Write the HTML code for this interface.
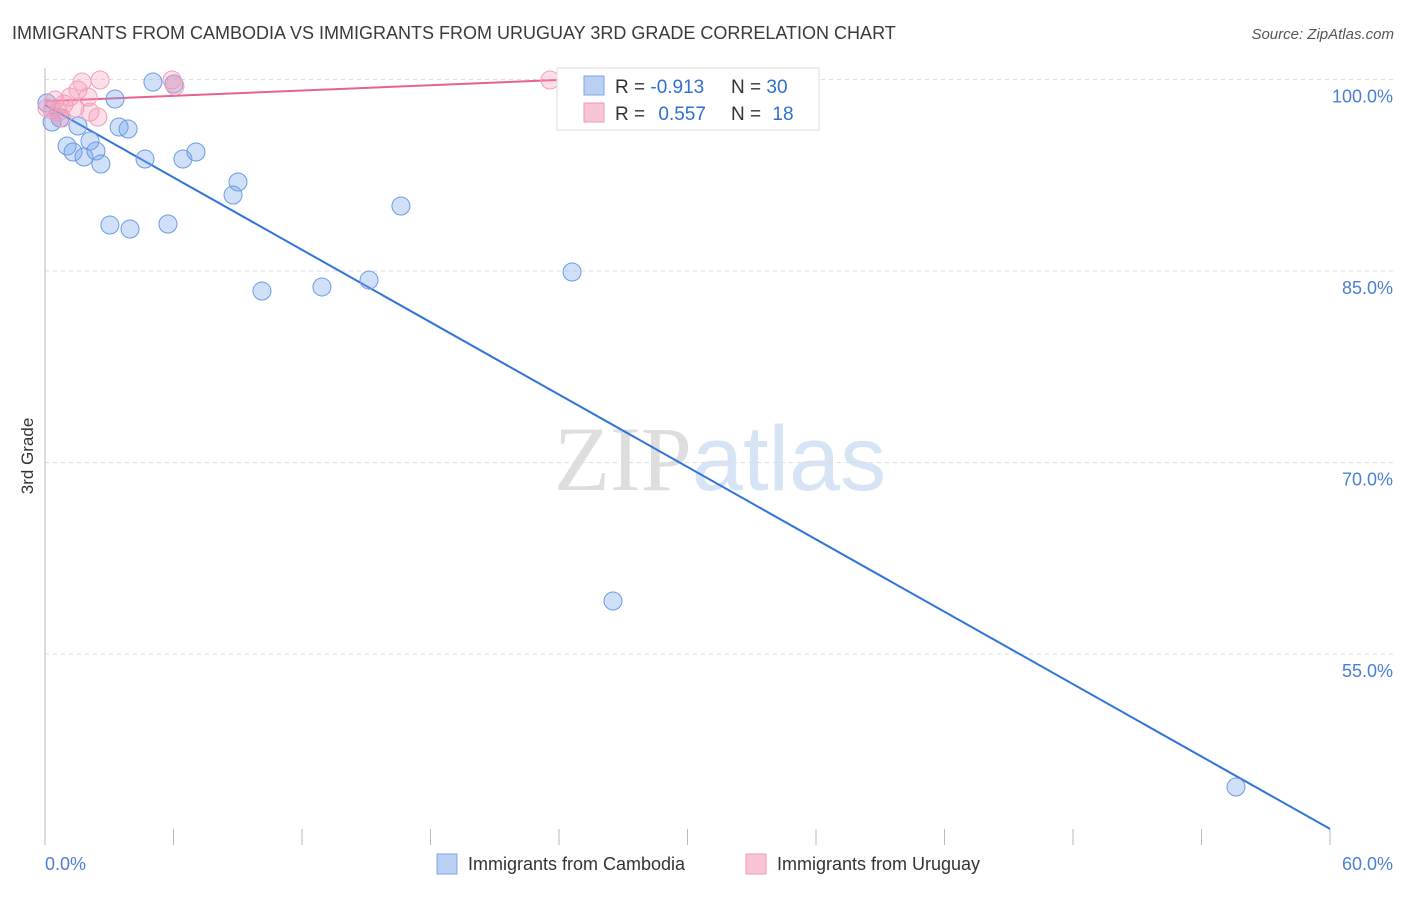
<!DOCTYPE html>
<html><head><meta charset="utf-8"><style>
body{margin:0;background:#fff;font-family:"Liberation Sans",sans-serif;}
svg text{font-family:"Liberation Sans",sans-serif;}
</style></head><body>
<svg id="chart" width="1406" height="892" xmlns="http://www.w3.org/2000/svg">
<text x="12" y="39" font-size="18" fill="#3a3a3a">IMMIGRANTS FROM CAMBODIA VS IMMIGRANTS FROM URUGUAY 3RD GRADE CORRELATION CHART</text>
<text x="1394" y="39" font-size="15" fill="#555" text-anchor="end" font-style="italic">Source: ZipAtlas.com</text>
<text x="720" y="490" font-size="92" text-anchor="middle" fill="#e4e4e4"><tspan font-family="Liberation Serif" fill="#dedede">ZIP</tspan><tspan fill="#d6e4f5">atlas</tspan></text>
<text transform="translate(33,456) rotate(-90)" font-size="17" fill="#333" text-anchor="middle">3rd Grade</text>
<g id="grid"></g>
<g id="trend"></g>
<g id="points"></g>
<g>
<rect x="557" y="68" width="262" height="62" fill="#fff" stroke="#ddd"/>
<rect x="584" y="76" width="20" height="19" fill="#b9d0f2" stroke="#7fa6e6"/>
<rect x="584" y="103" width="20" height="19" fill="#f8c5d4" stroke="#ee9ab5"/>
<text x="615" y="93" font-size="19" fill="#333">R = <tspan fill="#2f6fd6">-0.913</tspan></text>
<text x="731" y="93" font-size="19" fill="#333">N = <tspan fill="#2f6fd6">30</tspan></text>
<text x="615" y="120" font-size="19" fill="#333">R = <tspan fill="#2f6fd6" dx="8">0.557</tspan></text>
<text x="731" y="120" font-size="19" fill="#333">N = <tspan fill="#2f6fd6" dx="6">18</tspan></text>
</g>
<text x="45" y="870" font-size="18" fill="#4a7fd6">0.0%</text>
<text x="1393" y="870" font-size="18" fill="#4a7fd6" text-anchor="end">60.0%</text>
<g>
<rect x="437" y="854" width="20" height="20" fill="#b9d0f2" stroke="#7fa6e6"/>
<text x="468" y="870" font-size="18" fill="#333">Immigrants from Cambodia</text>
<rect x="746" y="854" width="20" height="20" fill="#f8c5d4" stroke="#ee9ab5"/>
<text x="777" y="870" font-size="18" fill="#333">Immigrants from Uruguay</text>
</g>
</svg>
<script>
const yTicks=[100,85,70,55];
const yTickLabels=["100.0%","85.0%","70.0%","55.0%"];
const xTicks=[0,6,12,18,24,30,36,42,48,54,60];
const cambodiaX=[0.09,0.33,0.70,1.54,3.27,5.04,6.02,1.03,1.31,1.82,2.10,2.38,2.61,3.46,3.88,4.67,6.44,7.05,9.01,8.78,3.03,3.97,5.74,16.62,10.13,12.93,15.13,24.61,26.52,55.61];
const cambodiaY=[98.16,96.67,96.98,96.36,98.47,99.80,99.65,94.79,94.32,93.93,95.18,94.40,93.38,96.28,96.12,93.77,93.77,94.32,91.97,90.95,88.60,88.29,88.68,90.09,83.43,83.75,84.29,84.92,59.15,44.58];
const uruguayX=[0.09,0.33,0.61,0.89,1.17,1.54,1.73,2.01,2.47,2.57,0.79,1.40,5.93,6.07,23.58,35.30,2.10,0.47];
const uruguayY=[97.77,97.61,97.45,98.08,98.63,99.18,99.80,98.63,97.06,99.96,96.98,97.77,99.96,99.49,99.96,99.96,97.45,98.39];
const cambodiaTrendX=[0,60], cambodiaTrendY=[98.0,41.3];
const uruguayTrendX=[0,25.9], uruguayTrendY=[98.3,100.1];
const NS="http://www.w3.org/2000/svg";
const xs=v=>45+v/60*1285;
const ys=v=>79.5+(100-v)/15*191.5;
function mk(t,a,p){const e=document.createElementNS(NS,t);for(const k in a)e.setAttribute(k,a[k]);p.appendChild(e);return e;}
const grid=document.getElementById('grid');
yTicks.forEach((v,i)=>{
 const l=mk('line',{x1:45,x2:1393,y1:ys(v),y2:ys(v),stroke:'#ddd','stroke-dasharray':'4,4'},grid);
 
 
 const t=mk('text',{x:1393,y:ys(v)+23,'font-size':18,fill:'#4a7fd6','text-anchor':'end'},grid);
 t.textContent=yTickLabels[i];
 
 
});
const ax=mk('line',{x1:45,x2:45,y1:68,y2:845,stroke:'#bbb'},grid);


xTicks.forEach(v=>{
 const t=mk('line',{x1:xs(v),x2:xs(v),y1:829,y2:845,stroke:'#bbb'},grid);
 
 
});
const tr=document.getElementById('trend');
const l1=mk('line',{x1:xs(cambodiaTrendX[0]),y1:ys(cambodiaTrendY[0]),x2:xs(cambodiaTrendX[1]),y2:ys(cambodiaTrendY[1]),stroke:'#2f74d9','stroke-width':2},tr);


const l2=mk('line',{x1:xs(uruguayTrendX[0]),y1:ys(uruguayTrendY[0]),x2:xs(uruguayTrendX[1]),y2:ys(uruguayTrendY[1]),stroke:'#e8628f','stroke-width':2},tr);


const pts=document.getElementById('points');
cambodiaX.forEach((x,i)=>{
 const c=mk('circle',{cx:xs(x),cy:ys(cambodiaY[i]),r:9,fill:'rgba(120,165,235,0.35)',stroke:'#6b9be3','stroke-width':1},pts);
 
 
});
uruguayX.forEach((x,i)=>{
 const c=mk('circle',{cx:xs(x),cy:ys(uruguayY[i]),r:9,fill:'rgba(245,150,180,0.3)',stroke:'#f0a0bb','stroke-width':1},pts);
 
 
});
</script>
</body></html>
